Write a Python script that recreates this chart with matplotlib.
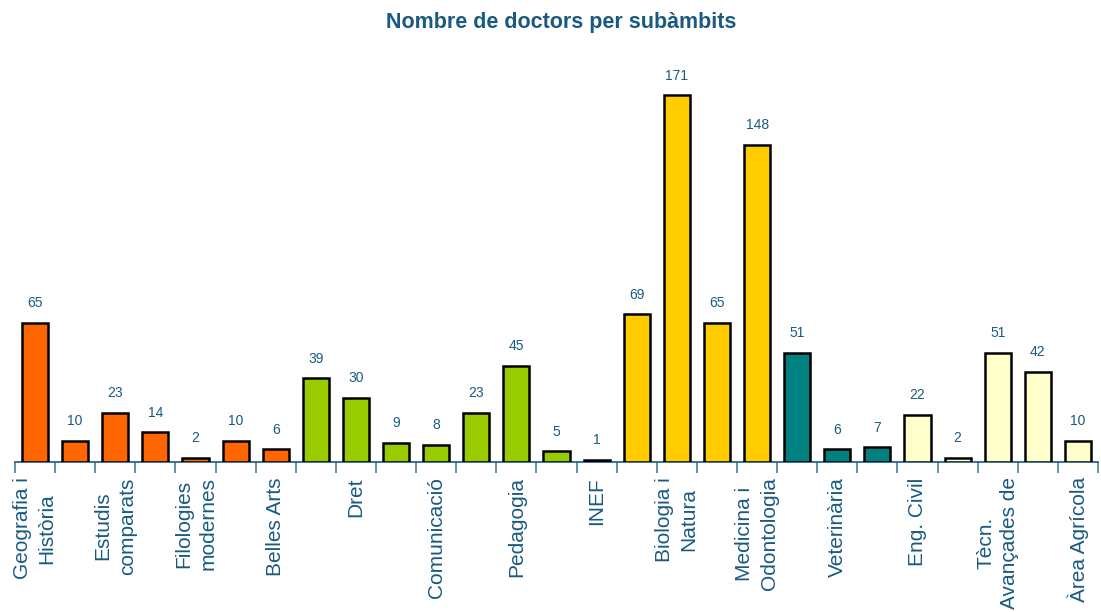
import matplotlib.pyplot as plt
import numpy as np

plt.rcParams['font.family'] = ['Liberation Sans', 'DejaVu Sans']

# dades
etiquetes = ['Geografia i\nHistòria', '', 'Estudis\ncomparats', '', 'Filologies\nmodernes', '',
             'Belles Arts', '', 'Dret', '', 'Comunicació', '', 'Pedagogia', '', 'INEF', '',
             'Biologia i\nNatura', '', 'Medicina i\nOdontologia', '', 'Veterinària', '',
             'Eng. Civil', '', 'Tècn.\nAvançades de', '', 'Àrea Agrícola']
valors = [65, 10, 23, 14, 2, 10, 6, 39, 30, 9, 8, 23, 45, 5, 1, 69, 171, 65, 148, 51,
          6, 7, 22, 2, 51, 42, 10]
grups = [0] * 7 + [1] * 8 + [2] * 4 + [3] * 3 + [4] * 5
colors_grup = ['#FF6600', '#99CC00', '#FFCC00', '#008080', '#FFFFCC']

blau = '#1A5A80'

fig = plt.figure(figsize=(11.01, 6.12), dpi=100)
ax = fig.add_axes([0.0136, 0.245, 0.9837, 0.631])

x = np.arange(len(valors))
barres = ax.bar(x, valors, width=0.65, color=[colors_grup[g] for g in grups],
                edgecolor='black', linewidth=1.8, zorder=3)

for xi, v in zip(x, valors):
    ax.annotate(str(v), (xi, v), xytext=(0, 9), textcoords='offset points',
                ha='center', va='bottom', fontsize=10, color=blau)

ax.set_xlim(-0.5, len(valors) - 0.5)
ax.set_ylim(0, 180)

# eixos
for s in ['top', 'right', 'left']:
    ax.spines[s].set_visible(False)
ax.spines['bottom'].set_color(blau)
ax.spines['bottom'].set_linewidth(1.2)
ax.set_yticks([])

ax.set_xticks(x)
ax.set_xticklabels(etiquetes, rotation=90, ha='center', va='top',
                   multialignment='center', fontsize=15, color=blau,
                   linespacing=1.35)
ax.tick_params(axis='x', which='major', length=0, pad=11)
ax.set_xticks(np.arange(-0.5, len(valors), 1), minor=True)
ax.tick_params(axis='x', which='minor', length=8, width=1.2, color='#4A7D99',
               direction='out')

fig.suptitle('Nombre de doctors per subàmbits', x=0.51, y=0.98,
             fontsize=15.5, fontweight='bold', color=blau)

fig.savefig('out.png', dpi=100)
